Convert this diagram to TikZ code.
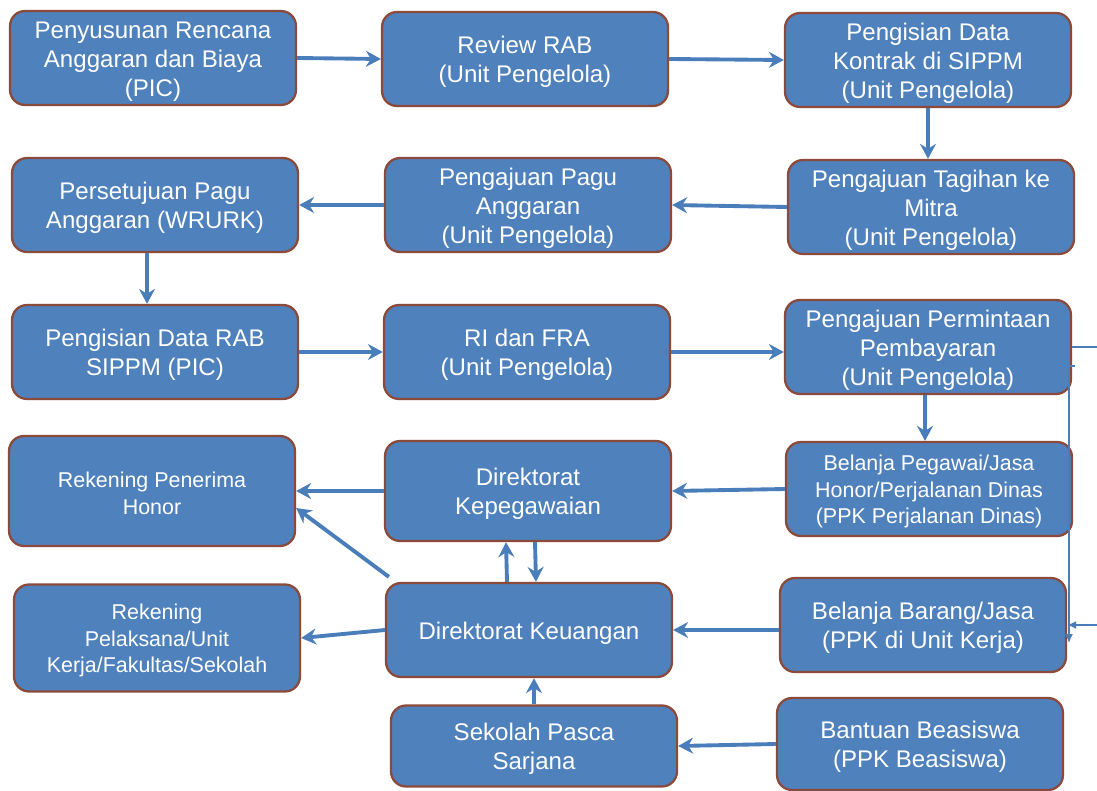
\documentclass[tikz,border=0pt]{standalone}
\usepackage{fontspec}
\setmainfont{Liberation Sans}
\usetikzlibrary{arrows.meta}
\definecolor{boxfill}{HTML}{4F81BD}
\definecolor{boxline}{HTML}{8C4A3B}
\definecolor{flowline}{HTML}{4A7EBB}
\newcommand{\topgap}{\rule{0pt}{0.96em}}

\begin{document}
\begin{tikzpicture}[x=0.02cm,y=-0.02cm,
  stage/.style={draw=boxline,line width=1.3pt,fill=boxfill,rounded corners=0.3cm,
    minimum width=5.72cm,minimum height=1.88cm,align=center,text=white,inner sep=0pt,
    font=\fontsize{13.7}{16.5}\selectfont},
  smalltext/.style={font=\fontsize{12.2}{15.3}\selectfont},
  flow/.style={draw=flowline,line width=2.2pt,-{Stealth[length=0.3cm,width=0.32cm,inset=0.1cm]}},
  thinflow/.style={draw=flowline,line width=0.8pt}]
\useasboundingbox (0,0) rectangle (1097,790);

% row 1
\node[stage] (rencana) at (153,58) {\topgap Penyusunan Rencana\\Anggaran dan Biaya\\(PIC)};
\node[stage] (review) at (525,59) {\topgap Review RAB\\(Unit Pengelola)};
\node[stage] (kontrak) at (928,60) {\topgap Pengisian Data\\Kontrak di SIPPM\\(Unit Pengelola)};
% row 2
\node[stage] (tagihan) at (931,207) {\topgap Pengajuan Tagihan ke\\Mitra\\(Unit Pengelola)};
\node[stage] (pagu) at (528,205) {\topgap Pengajuan Pagu\\Anggaran\\(Unit Pengelola)};
\node[stage] (setuju) at (155,205) {\topgap Persetujuan Pagu\\Anggaran (WRURK)};
% row 3
\node[stage] (datarab) at (155,352) {\topgap Pengisian Data RAB\\SIPPM (PIC)};
\node[stage] (rifra) at (527,352) {\topgap RI dan FRA\\(Unit Pengelola)};
\node[stage] (permintaan) at (928,347) {\topgap Pengajuan Permintaan\\Pembayaran\\(Unit Pengelola)};
% row 4
\node[stage,smalltext] (pegawai) at (929,489) {\topgap Belanja Pegawai/Jasa\\Honor/Perjalanan Dinas\\(PPK Perjalanan Dinas)};
\node[stage,minimum height=2cm] (kepeg) at (528,491) {\topgap Direktorat\\Kepegawaian};
\node[stage,smalltext,minimum height=2.2cm] (honor) at (152,491) {\topgap Rekening Penerima\\Honor};
% row 5
\node[stage,smalltext,minimum height=2.14cm] (pelaksana) at (157,638) {\topgap Rekening\\Pelaksana/Unit\\Kerja/Fakultas/Sekolah};
\node[stage] (keuangan) at (529,630) {\topgap Direktorat Keuangan};
\node[stage] (barang) at (923,625) {\topgap Belanja Barang/Jasa\\(PPK di Unit Kerja)};
% row 6
\node[stage,minimum height=1.62cm] (pasca) at (534,746) {\topgap Sekolah Pasca\\Sarjana};
\node[stage,minimum height=1.84cm] (beasiswa) at (920,744) {\topgap Bantuan Beasiswa\\(PPK Beasiswa)};

% main flow
\draw[flow] (rencana.east) -- (review.west);
\draw[flow] (review.east) -- (kontrak.west);
\draw[flow] (kontrak.south) -- (kontrak.south |- tagihan.north);
\draw[flow] (tagihan.west) -- (pagu.east);
\draw[flow] (pagu.west) -- (setuju.east);
\draw[flow] ([xshift=-0.16cm]setuju.south) -- ([xshift=-0.16cm]datarab.north);
\draw[flow] (datarab.east) -- (rifra.west);
\draw[flow] (rifra.east) -- (rifra.east -| permintaan.west);
\draw[flow] ([xshift=-0.06cm]permintaan.south) -- ([xshift=-0.06cm]permintaan.south |- pegawai.north);
\draw[flow] (pegawai.west) -- (kepeg.east);
\draw[flow] (kepeg.west) -- (honor.east);
\draw[flow] ([shift={(0.08cm,0.1cm)}]keuangan.north west) -- ([yshift=-0.34cm]honor.east);
\draw[flow] ([xshift=-0.44cm]keuangan.north) -- ([xshift=-0.44cm]kepeg.south);
\draw[flow] ([xshift=0.14cm]kepeg.south) -- ([xshift=0.14cm]keuangan.north);
\draw[flow] (keuangan.west) -- (pelaksana.east);
\draw[flow] (barang.west |- keuangan.east) -- (keuangan.east);
\draw[flow] (pasca.north) -- (pasca.north |- keuangan.south);
\draw[flow] (beasiswa.west) -- (pasca.east);

% thin lines on the right
\coordinate (outtop) at (1097,347);
\coordinate (outbot) at (1097,625);
\coordinate (railtop) at ([xshift=0.06cm,yshift=-0.38cm]permintaan.east);
\coordinate (railend) at (1069,643);
\draw[thinflow] (permintaan.east) -- (outtop);
\draw[thinflow,-{Latex[length=0.18cm,width=0.16cm]}] (railtop) -| (railend);
\draw[thinflow,-{Latex[length=0.18cm,width=0.16cm]}] (outbot) -- (barang.east);
\end{tikzpicture}
\end{document}
